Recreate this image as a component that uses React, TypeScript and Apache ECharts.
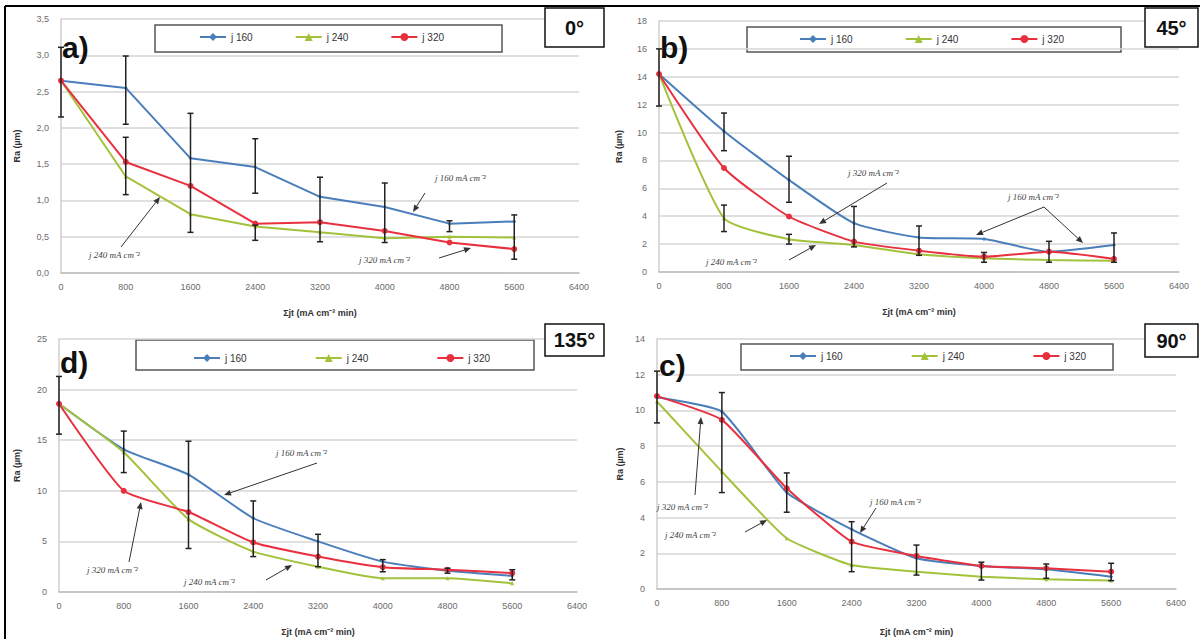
import React, { useEffect, useRef } from "react";
import * as echarts from "echarts";

// ---------- data ----------
const xValues = [0, 800, 1600, 2400, 3200, 4000, 4800, 5600];
const seriesNames = ["j 160", "j 240", "j 320"];

// a) 0°
const a160 = [2.65, 2.55, 1.58, 1.46, 1.05, 0.91, 0.68, 0.71];
const a240 = [2.65, 1.33, 0.81, 0.64, 0.56, 0.48, 0.5, 0.49];
const a320 = [2.65, 1.53, 1.2, 0.68, 0.7, 0.58, 0.42, 0.33];
// b) 45°
const b160 = [14.2, 10.1, 6.6, 3.5, 2.47, 2.37, 1.46, 1.94];
const b240 = [14.2, 3.86, 2.35, 1.94, 1.27, 0.98, 0.86, 0.81];
const b320 = [14.2, 7.46, 3.98, 2.18, 1.53, 1.1, 1.46, 0.94];
// d) 135°
const d160 = [18.6, 14.1, 11.6, 7.3, 5.0, 3.0, 2.1, 1.6];
const d240 = [18.6, 13.8, 7.2, 4.0, 2.5, 1.36, 1.36, 0.86];
const d320 = [18.6, 10.0, 7.9, 4.9, 3.5, 2.45, 2.2, 1.86];
// c) 90°
const c160 = [10.74, 9.93, 5.4, 3.34, 1.72, 1.29, 1.1, 0.69];
const c240 = [10.5, 6.57, 2.84, 1.34, 0.97, 0.69, 0.54, 0.47];
const c320 = [10.8, 9.47, 5.64, 2.65, 1.85, 1.29, 1.16, 0.97];

// error bars: [x, low, high]
const errA = [[0, 2.15, 3.11], [800, 2.05, 2.99], [800, 1.08, 1.87], [1600, 0.56, 2.2], [2400, 1.1, 1.85], [2400, 0.45, 0.66], [3200, 0.43, 1.32], [4000, 0.42, 1.24], [4800, 0.57, 0.72], [5600, 0.19, 0.8]];
const errB = [[0, 11.9, 16.0], [800, 8.7, 11.4], [800, 2.9, 4.8], [1600, 5.0, 8.3], [1600, 2.0, 2.7], [2400, 1.8, 4.7], [3200, 1.2, 3.3], [4000, 0.7, 1.4], [4800, 0.7, 2.2], [5600, 0.7, 2.8]];
const errD = [[0, 15.6, 21.3], [800, 11.8, 15.9], [1600, 4.3, 14.9], [2400, 3.5, 9.0], [3200, 2.5, 5.7], [4000, 2.0, 3.2], [4800, 1.86, 2.35], [5600, 1.2, 2.2]];
const errC = [[0, 9.3, 12.2], [800, 5.4, 11.0], [1600, 4.3, 6.5], [2400, 0.97, 3.77], [3200, 0.78, 2.46], [4000, 0.5, 1.5], [4800, 0.6, 1.4], [5600, 0.47, 1.44]];

const yMaxes = [3.5, 18, 25, 14];
const yIntervals = [0.5, 2, 5, 2];
const angleLabels = ["0°", "45°", "135°", "90°"];
const panelLetters = ["a)", "b)", "d)", "c)"];
const xAxisTitle = "Σjt (mA cm⁻² min)";
const yAxisTitle = "Ra (µm)";

const COLORS = ["#4a7ebb", "#a3c23c", "#e8303f"];
const SYMBOLS = ["diamond", "triangle", "circle"];
const SYMBOL_SIZES = [4, 4, 6];

// ---------- layout ----------
const grids = [
  { left: 61, top: 19, width: 518, height: 254 },
  { left: 659, top: 21, width: 520, height: 251 },
  { left: 59, top: 339, width: 518, height: 253 },
  { left: 657, top: 339, width: 519, height: 250 },
];
const yNameGaps = [40, 36, 38, 33];
const xNameGaps = [35, 35, 35, 38];
const smoothing = [false, 0.18, 0.18, 0.15];
const legendBoxes = [
  { x: 155, y: 25, w: 347, h: 27 },
  { x: 747, y: 27, w: 374, h: 25 },
  { x: 136, y: 340, w: 398, h: 30 },
  { x: 741, y: 344, w: 372, h: 26 },
];
const legendPos = [
  { left: 199, cy: 38, gap: 42 },
  { left: 799, cy: 40, gap: 52 },
  { left: 193, cy: 359, gap: 68 },
  { left: 789, cy: 357, gap: 68 },
];
const angleBoxes = [
  { x: 545, y: 8, w: 59, h: 39 },
  { x: 1145, y: 8, w: 53, h: 39 },
  { x: 545, y: 324, w: 59, h: 32 },
  { x: 1145, y: 324, w: 53, h: 33 },
];
const letterPos = [
  { x: 62, y: 47 },
  { x: 660, y: 47 },
  { x: 60, y: 362 },
  { x: 659, y: 365 },
];

const annotations = [
  { text: "j 160 mA cm⁻²", x: 435, y: 178, arrows: [[425, 193, 413, 212]] },
  { text: "j 240 mA cm⁻²", x: 89, y: 255, arrows: [[121, 247, 160, 197]] },
  { text: "j 320 mA cm⁻²", x: 359, y: 260, arrows: [[439, 258, 471, 248]] },
  { text: "j 320 mA cm⁻²", x: 848, y: 173, arrows: [[887, 183, 819, 224]] },
  { text: "j 160 mA cm⁻²", x: 1008, y: 197, arrows: [[1044, 207, 976, 235], [1044, 207, 1083, 243]] },
  { text: "j 240 mA cm⁻²", x: 706, y: 262, arrows: [[789, 260, 816, 245]] },
  { text: "j 160 mA cm⁻²", x: 276, y: 453, arrows: [[317, 463, 224, 495]] },
  { text: "j 320 mA cm⁻²", x: 87, y: 570, arrows: [[129, 562, 141, 502]] },
  { text: "j 240 mA cm⁻²", x: 184, y: 582, arrows: [[266, 580, 292, 565]] },
  { text: "j 320 mA cm⁻²", x: 657, y: 507, arrows: [[695, 495, 701, 417]] },
  { text: "j 240 mA cm⁻²", x: 665, y: 535, arrows: [[745, 532, 767, 520]] },
  { text: "j 160 mA cm⁻²", x: 870, y: 502, arrows: [[876, 508, 860, 533]] },
];

function arrow(x1: number, y1: number, x2: number, y2: number) {
  const ang = Math.atan2(y2 - y1, x2 - x1);
  const L = 7, W = 3;
  const bx = x2 - L * Math.cos(ang), by = y2 - L * Math.sin(ang);
  const px = -Math.sin(ang) * W, py = Math.cos(ang) * W;
  return [
    { type: "line", shape: { x1, y1, x2: bx, y2: by }, style: { stroke: "#333", lineWidth: 1 }, z: 20 },
    { type: "polygon", shape: { points: [[x2, y2], [bx + px, by + py], [bx - px, by - py]] }, style: { fill: "#333" }, z: 20 },
  ];
}

function buildOption() {
  const panels = [
    [a160, a240, a320],
    [b160, b240, b320],
    [d160, d240, d320],
    [c160, c240, c320],
  ];
  const errs = [errA, errB, errD, errC];
  const labelFont = { fontSize: 9, color: "#6b6b6b", fontFamily: "Liberation Sans" };

  const series: any[] = [];
  panels.forEach((sets, pi) => {
    sets.forEach((vals, si) => {
      series.push({
        type: "line",
        name: seriesNames[si],
        xAxisIndex: pi,
        yAxisIndex: pi,
        data: xValues.map((x, i) => [x, vals[i]]),
        smooth: smoothing[pi],
        symbol: SYMBOLS[si],
        symbolSize: SYMBOL_SIZES[si],
        showSymbol: true,
        showAllSymbol: true,
        itemStyle: { color: COLORS[si] },
        lineStyle: { color: COLORS[si], width: 2 },
        z: 2 + si,
      });
    });
    series.push({
      type: "custom",
      name: "err" + pi,
      xAxisIndex: pi,
      yAxisIndex: pi,
      data: errs[pi],
      encode: { x: 0, y: [1, 2] },
      z: 10,
      renderItem: (params: any, api: any) => {
        const x = api.value(0);
        const lo = api.coord([x, api.value(1)]);
        const hi = api.coord([x, api.value(2)]);
        const s = { stroke: "#222", lineWidth: 1.5 };
        return {
          type: "group",
          children: [
            { type: "line", shape: { x1: hi[0], y1: hi[1], x2: lo[0], y2: lo[1] }, style: s },
            { type: "line", shape: { x1: hi[0] - 3, y1: hi[1], x2: hi[0] + 3, y2: hi[1] }, style: s },
            { type: "line", shape: { x1: lo[0] - 3, y1: lo[1], x2: lo[0] + 3, y2: lo[1] }, style: s },
          ],
        };
      },
    });
  });

  const xAxis = grids.map((g, i) => ({
    type: "value",
    gridIndex: i,
    min: 0,
    max: 6400,
    interval: 800,
    name: xAxisTitle,
    nameLocation: "middle",
    nameGap: xNameGaps[i],
    nameTextStyle: { fontSize: 9, color: "#333", fontWeight: "bold", fontFamily: "Liberation Sans" },
    axisLine: { show: true, lineStyle: { color: "#bdbdbd", width: 1.5 } },
    axisTick: { show: false },
    splitLine: { show: false },
    axisLabel: { ...labelFont, margin: 9, formatter: (v: number) => String(v) },
  }));

  const yAxis = grids.map((g, i) => ({
    type: "value",
    gridIndex: i,
    min: 0,
    max: yMaxes[i],
    interval: yIntervals[i],
    name: yAxisTitle,
    nameLocation: "middle",
    nameGap: yNameGaps[i],
    nameTextStyle: { fontSize: 9, color: "#333", fontWeight: "bold", fontFamily: "Liberation Sans" },
    axisLine: { show: true, lineStyle: { color: "#cfcfcf", width: 1.5 } },
    axisTick: { show: false },
    splitLine: { show: true, lineStyle: { color: "#d6d6d6", width: 1.5 } },
    axisLabel: {
      ...labelFont,
      margin: 12,
      formatter: i === 0 ? (v: number) => v.toFixed(1).replace(".", ",") : (v: number) => String(v),
    },
  }));

  const legend = legendPos.map((p) => ({
    data: seriesNames,
    left: p.left,
    top: p.cy - 6,
    padding: 0,
    itemGap: p.gap,
    itemWidth: 26,
    itemHeight: 10,
    textStyle: { fontSize: 10, color: "#333", fontFamily: "Liberation Sans" },
    selectedMode: false,
  }));

  const graphic: any[] = [];
  // outer frame (left & top)
  graphic.push({ type: "line", shape: { x1: 5, y1: 6, x2: 5, y2: 639 }, style: { stroke: "#000", lineWidth: 2 }, z: 30 });
  graphic.push({ type: "line", shape: { x1: 5, y1: 6, x2: 1200, y2: 6 }, style: { stroke: "#000", lineWidth: 2 }, z: 30 });
  legendBoxes.forEach((b) => {
    graphic.push({ type: "rect", shape: { x: b.x, y: b.y, width: b.w, height: b.h }, style: { fill: "#fff", stroke: "#555", lineWidth: 1.5 }, z: 0 });
  });
  angleBoxes.forEach((b, i) => {
    graphic.push({ type: "rect", shape: { x: b.x, y: b.y, width: b.w, height: b.h }, style: { fill: "#fff", stroke: "#111", lineWidth: 1.5 }, z: 25 });
    graphic.push({
      type: "text",
      x: b.x + b.w / 2,
      y: b.y + b.h / 2,
      style: { text: angleLabels[i], fontSize: 20, fontWeight: "bold", fill: "#111", align: "center", verticalAlign: "middle", fontFamily: "Liberation Sans" },
      z: 26,
    });
  });
  letterPos.forEach((p, i) => {
    graphic.push({
      type: "text",
      x: p.x,
      y: p.y,
      style: { text: panelLetters[i], fontSize: 30, fontWeight: "bold", fill: "#111", verticalAlign: "middle", fontFamily: "Liberation Sans" },
      z: 26,
    });
  });
  annotations.forEach((a) => {
    graphic.push({
      type: "text",
      x: a.x,
      y: a.y,
      style: { text: a.text, fontSize: 9, fontStyle: "italic", fill: "#444", verticalAlign: "middle", fontFamily: "Liberation Serif" },
      z: 20,
    });
    a.arrows.forEach((ar) => graphic.push(...arrow(ar[0], ar[1], ar[2], ar[3])));
  });

  return {
    animation: false,
    backgroundColor: "#ffffff",
    grid: grids.map((g) => ({ ...g, containLabel: false })),
    xAxis,
    yAxis,
    legend,
    series,
    graphic,
  };
}

export default function App() {
  const ref = useRef<HTMLDivElement>(null);
  useEffect(() => {
    document.body.style.margin = "0";
    const chart = echarts.init(ref.current!, null, { renderer: "svg", width: 1200, height: 639 });
    chart.setOption(buildOption() as any);
    return () => chart.dispose();
  }, []);
  return <div ref={ref} style={{ width: 1200, height: 639 }} />;
}
